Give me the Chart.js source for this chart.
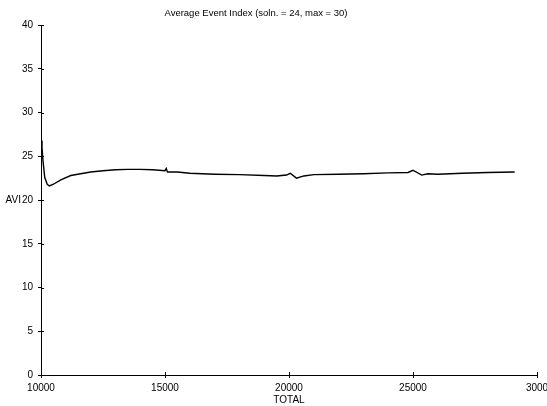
<!DOCTYPE html>
<html>
<head>
<meta charset="utf-8">
<script src="https://cdn.jsdelivr.net/npm/chart.js@4.4.0/dist/chart.umd.min.js"></script>
<style>
  html, body { margin: 0; padding: 0; background: #fff; }
  #wrap { width: 547px; height: 406px; }
</style>
</head>
<body>
<div id="wrap"><canvas id="avi-chart" width="547" height="406"></canvas></div>
<script>
// Values
const totals = [10000, 10040, 10080, 10150, 10250, 10340, 10500, 10800, 11200, 11600, 12000, 12500,
  13000, 13500, 14000, 14500, 15000, 15050, 15100, 15500, 16000, 17000, 18000, 19000, 19500,
  19900, 20050, 20300, 20600, 21000, 22000, 23000, 24000, 24800, 25000, 25350, 25600, 26000,
  26500, 27000, 28000, 29100];
const avi = [26.8, 26.0, 24.5, 22.6, 21.8, 21.6, 21.8, 22.3, 22.8, 23.0, 23.2, 23.35,
  23.45, 23.5, 23.5, 23.45, 23.35, 23.6, 23.2, 23.2, 23.05, 22.95, 22.9, 22.8, 22.75,
  22.85, 23.05, 22.5, 22.75, 22.9, 22.95, 23.0, 23.1, 23.15, 23.4, 22.85, 23.0, 22.95,
  23.0, 23.05, 23.15, 23.2];
const xTicks = [10000, 15000, 20000, 25000, 30000];
const xTickLabels = ['10000', '15000', '20000', '25000', '3000'];
const yTicks = [0, 5, 10, 15, 20, 25, 30, 35, 40];

const titleText = 'Average Event Index (soln. = 24, max = 30)';
const fontFam = '"Liberation Sans", Arial, sans-serif';

// tick marks that cross the axis, title and the horizontal "AVI" label
const extras = {
  id: 'extras',
  afterDraw(chart) {
    const ctx = chart.ctx;
    const xs = chart.scales.x, ys = chart.scales.y;
    const area = chart.chartArea;
    ctx.save();
    ctx.strokeStyle = '#000';
    ctx.lineWidth = 1;
    ctx.beginPath();
    yTicks.forEach(v => {
      const py = Math.round(ys.getPixelForValue(v)) + 0.5;
      ctx.moveTo(area.left, py); ctx.lineTo(area.left + 3, py);
    });
    xTicks.forEach(v => {
      const px = Math.round(xs.getPixelForValue(v)) + 0.5;
      ctx.moveTo(px, area.bottom); ctx.lineTo(px, area.bottom - 3);
    });
    ctx.stroke();
    ctx.fillStyle = '#000';
    ctx.font = '9.5px ' + fontFam;
    ctx.textAlign = 'center';
    ctx.textBaseline = 'middle';
    ctx.fillText(titleText, 256, 13);
    ctx.font = '10px ' + fontFam;
    ctx.textAlign = 'right';
    ctx.fillText('AVI', 21, ys.getPixelForValue(20));
    ctx.restore();
  }
};

new Chart(document.getElementById('avi-chart'), {
  type: 'scatter',
  data: {
    datasets: [{
      data: totals.map((t, i) => ({ x: t, y: avi[i] })),
      showLine: true,
      borderColor: '#000',
      borderWidth: 1.4,
      pointRadius: 0,
      tension: 0
    }]
  },
  options: {
    responsive: false,
    animation: false,
    layout: { padding: { top: 25, right: 10, left: 0, bottom: 0 } },
    plugins: {
      legend: { display: false },
      tooltip: { enabled: false }
    },
    scales: {
      x: {
        type: 'linear',
        min: 10000,
        max: 30000,
        afterBuildTicks: s => { s.ticks = xTicks.map(v => ({ value: v })); },
        afterFit: s => { s.height = 31; s.paddingRight = 0; s.paddingLeft = 0; },
        grid: { display: true, drawOnChartArea: false, color: '#000', tickLength: 3 },
        border: { color: '#000', width: 1 },
        ticks: {
          color: '#000',
          font: { family: fontFam, size: 10 },
          padding: 4,
          maxRotation: 0,
          callback: (v, i) => xTickLabels[i]
        },
        title: {
          display: true,
          text: 'TOTAL',
          color: '#000',
          font: { family: fontFam, size: 10 },
          padding: { top: 5, bottom: 0 }
        }
      },
      y: {
        min: 0,
        max: 40,
        afterBuildTicks: s => { s.ticks = yTicks.map(v => ({ value: v })); },
        afterFit: s => { s.width = 41; },
        grid: { display: true, drawOnChartArea: false, color: '#000', tickLength: 3 },
        border: { color: '#000', width: 1 },
        ticks: {
          color: '#000',
          font: { family: fontFam, size: 10 },
          padding: 5
        }
      }
    }
  },
  plugins: [extras]
});
</script>
</body>
</html>
